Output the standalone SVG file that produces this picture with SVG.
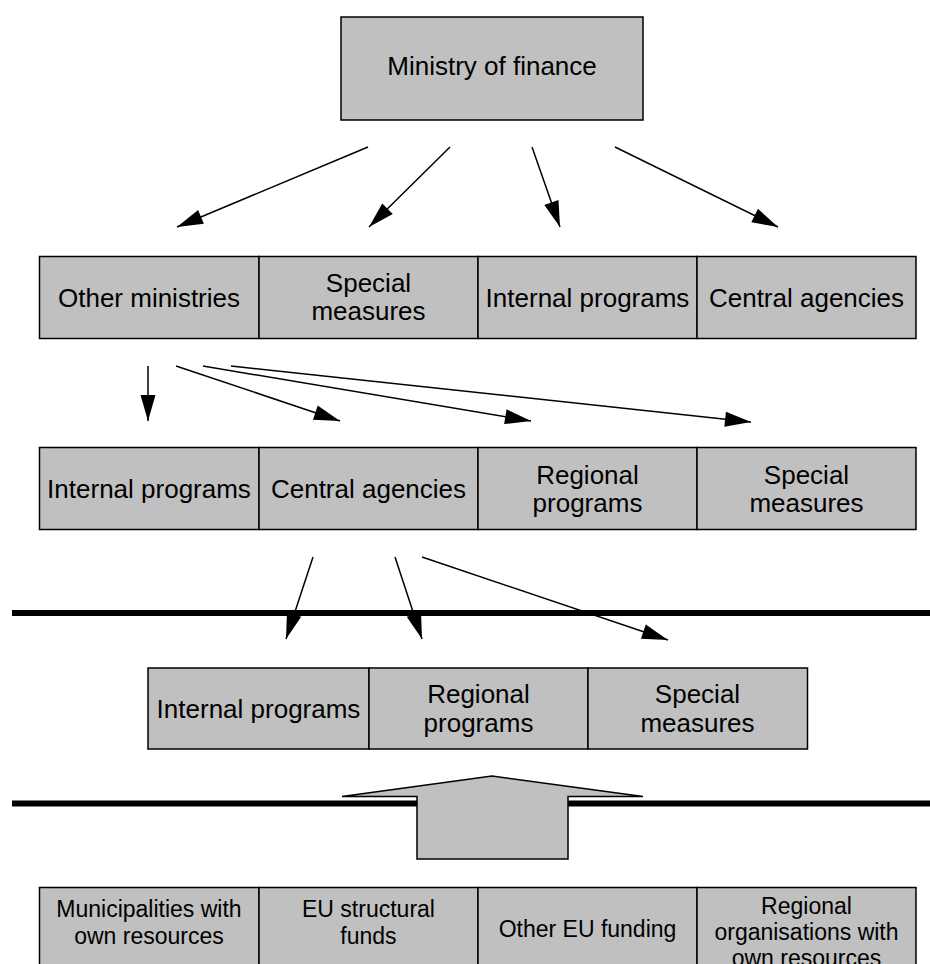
<svg xmlns="http://www.w3.org/2000/svg" width="930" height="964" viewBox="0 0 930 964">
<style>
.box{fill:#c0c0c0;stroke:#000;stroke-width:1.5}
.t{font-family:"Liberation Sans",Arial,sans-serif;font-size:26px;fill:#000;text-anchor:middle}
.s{font-family:"Liberation Sans",Arial,sans-serif;font-size:23px;fill:#000;text-anchor:middle}
.c{stroke:#000;stroke-width:1.5;fill:none;marker-end:url(#ah)}
.bar{stroke:#000;stroke-width:6}
</style>
<defs>
<marker id="ah" markerUnits="userSpaceOnUse" markerWidth="26" markerHeight="15" refX="26" refY="7.5" orient="auto" overflow="visible">
<path d="M0,0 L26,7.5 L0,15 z" fill="#000"/>
</marker>
</defs>
<rect width="930" height="964" fill="#fff"/>
<g id="bars">
<line class="bar" x1="12" y1="613" x2="930" y2="613"/>
<line class="bar" x1="12" y1="803.5" x2="930" y2="803.5"/>
</g>
<g id="ministry"><rect class="box" x="341" y="17" width="302" height="103"/><text class="t" x="492" y="75">Ministry of finance</text></g>
<g id="r1-other"><rect class="box" x="39.5" y="256.5" width="219.5" height="82"/><text class="t" x="149" y="307">Other ministries</text></g>
<g id="r1-special"><rect class="box" x="259" y="256.5" width="219" height="82"/><text class="t" x="368.5" y="292">Special</text><text class="t" x="368.5" y="320">measures</text></g>
<g id="r1-internal"><rect class="box" x="478" y="256.5" width="219" height="82"/><text class="t" x="587.5" y="307">Internal programs</text></g>
<g id="r1-central"><rect class="box" x="697" y="256.5" width="219" height="82"/><text class="t" x="806.5" y="307">Central agencies</text></g>
<g id="r2-internal"><rect class="box" x="39.5" y="447.5" width="219.5" height="82"/><text class="t" x="149" y="498">Internal programs</text></g>
<g id="r2-central"><rect class="box" x="259" y="447.5" width="219" height="82"/><text class="t" x="368.5" y="498">Central agencies</text></g>
<g id="r2-regional"><rect class="box" x="478" y="447.5" width="219" height="82"/><text class="t" x="587.5" y="484">Regional</text><text class="t" x="587.5" y="512">programs</text></g>
<g id="r2-special"><rect class="box" x="697" y="447.5" width="219" height="82"/><text class="t" x="806.5" y="484">Special</text><text class="t" x="806.5" y="512">measures</text></g>
<g id="r3-internal"><rect class="box" x="148" y="668" width="221" height="81"/><text class="t" x="258.5" y="718">Internal programs</text></g>
<g id="r3-regional"><rect class="box" x="369" y="668" width="219" height="81"/><text class="t" x="478.5" y="703">Regional</text><text class="t" x="478.5" y="732">programs</text></g>
<g id="r3-special"><rect class="box" x="588" y="668" width="219.5" height="81"/><text class="t" x="697.5" y="703">Special</text><text class="t" x="697.5" y="732">measures</text></g>
<g id="bigarrow"><polygon class="box" points="492,776 643,796.5 568,796.5 568,859 417,859 417,796.5 342,796.5"/></g>
<g id="b-municipalities"><rect class="box" x="39.5" y="887.5" width="219.5" height="90"/><text class="s" x="149" y="917">Municipalities with</text><text class="s" x="149" y="944">own resources</text></g>
<g id="b-eustructural"><rect class="box" x="259" y="887.5" width="219" height="90"/><text class="s" x="368.5" y="917">EU structural</text><text class="s" x="368.5" y="944">funds</text></g>
<g id="b-othereu"><rect class="box" x="478" y="887.5" width="219" height="90"/><text class="s" x="587.5" y="937">Other EU funding</text></g>
<g id="b-regionalorg"><rect class="box" x="697" y="887.5" width="219" height="90"/><text class="s" x="806.5" y="914">Regional</text><text class="s" x="806.5" y="940">organisations with</text><text class="s" x="806.5" y="966">own resources</text></g>
<g id="connectors">
<line class="c" x1="368" y1="147" x2="177" y2="227"/>
<line class="c" x1="450" y1="147" x2="369" y2="227"/>
<line class="c" x1="532" y1="147" x2="560" y2="227"/>
<line class="c" x1="615" y1="147" x2="778" y2="227"/>
<line class="c" x1="148" y1="366" x2="148" y2="421"/>
<line class="c" x1="176" y1="366" x2="340" y2="421"/>
<line class="c" x1="203" y1="366" x2="531" y2="421"/>
<line class="c" x1="231" y1="366" x2="751" y2="422"/>
<line class="c" x1="313" y1="557" x2="286" y2="639"/>
<line class="c" x1="395" y1="557" x2="422" y2="639"/>
<line class="c" x1="422" y1="557" x2="668" y2="640"/>
</g>
</svg>
